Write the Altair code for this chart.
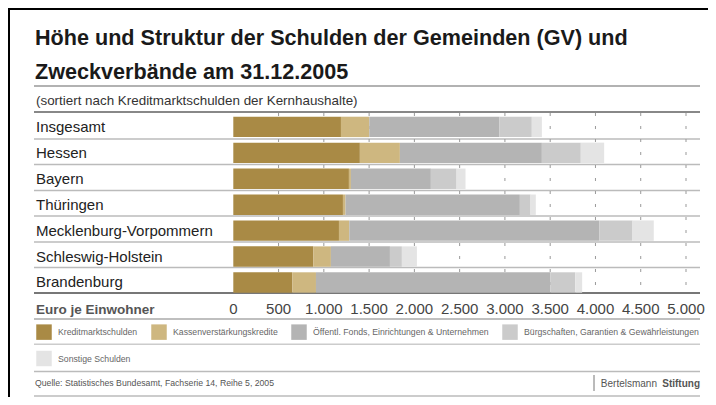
import altair as alt
import pandas as pd

# ---- data ----
states = ["Insgesamt", "Hessen", "Bayern", "Thüringen",
          "Mecklenburg-Vorpommern", "Schleswig-Holstein", "Brandenburg"]
categories = ["Kreditmarktschulden", "Kassenverstärkungskredite",
              "Öffentl. Fonds, Einrichtungen & Unternehmen",
              "Bürgschaften, Garantien & Gewährleistungen", "Sonstige Schulden"]
kredit = [1189, 1398, 1277, 1211, 1167, 883, 651]
kassen = [313, 442, 22, 29, 114, 195, 262]
oeff = [1435, 1568, 883, 1925, 2763, 652, 2590]
buerg = [360, 430, 284, 118, 365, 132, 273]
sonst = [111, 258, 99, 58, 235, 166, 77]
ticks = [0, 500, 1000, 1500, 2000, 2500, 3000, 3500, 4000, 4500, 5000]
tick_labels = ["0", "500", "1.000", "1.500", "2.000", "2.500", "3.000",
               "3.500", "4.000", "4.500", "5.000"]
colors = ["#A98A45", "#CEB780", "#B4B4B4", "#CBCBCB", "#E4E4E4"]

title1 = "Höhe und Struktur der Schulden der Gemeinden (GV) und"
title2 = "Zweckverbände am 31.12.2005"
subtitle = "(sortiert nach Kreditmarktschulden der Kernhaushalte)"
source = "Quelle: Statistisches Bundesamt, Fachserie 14, Reihe 5, 2005"

FONT = "Liberation Sans"

series = [kredit, kassen, oeff, buerg, sonst]
rows = []
for ci, (cat, vals) in enumerate(zip(categories, series)):
    for s, v in zip(states, vals):
        rows.append({"state": s, "cat": cat, "idx": ci, "value": v})
df = pd.DataFrame(rows)
df_states = pd.DataFrame({"state": states})
df_ticks = pd.DataFrame({"tick": ticks, "label": tick_labels})
df_grid = df_ticks[df_ticks.tick > 0]

W, H = 700, 389
xscale = alt.Scale(domain=[0, 5000], range=[225.3, 678], nice=False, zero=False)
yscale = alt.Scale(domain=states, range=[108.7, 284.7], paddingInner=0.213, paddingOuter=0)

base = alt.Chart(pd.DataFrame({"a": [0]}))


def hline(y, color, sw, x1=26, x2=692):
    return base.mark_rule(color=color, strokeWidth=sw).encode(
        x=alt.value(x1), x2=alt.value(x2), y=alt.value(y))


def label(text, x, y, size, color="#222", weight="normal", align="left", baseline="alphabetic"):
    return base.mark_text(text=text, font=FONT, fontSize=size, color=color,
                          fontWeight=weight, align=align, baseline=baseline).encode(
        x=alt.value(x), y=alt.value(y))


layers = []
# frame
layers.append(base.mark_rule(color="#000", strokeWidth=2).encode(
    x=alt.value(1), y=alt.value(0), y2=alt.value(H)))
layers.append(base.mark_rule(color="#000", strokeWidth=2).encode(
    x=alt.value(0), x2=alt.value(W), y=alt.value(1)))

# horizontal lines
layers.append(hline(78, "#999", 1.5))
layers.append(hline(104, "#888", 2))
for yy in [131, 156.5, 182.5, 208, 234, 259.5]:
    layers.append(hline(yy, "#bbb", 1.5))
layers.append(hline(285, "#777", 2))
layers.append(hline(311, "#aaa", 1.5))
layers.append(hline(336.3, "#ccc", 1.5))
layers.append(hline(363.5, "#bbb", 1.5))
layers.append(hline(388, "#bbb", 1.5))

# dashed grid
grid = alt.Chart(df_grid).mark_rule(color="#999", strokeWidth=1, strokeDash=[3, 10]).encode(
    x=alt.X("tick:Q", scale=xscale, axis=None),
    y=alt.value(105), y2=alt.value(285))
layers.append(grid)

bars = alt.Chart(df).mark_bar(size=20.4).encode(
    x=alt.X("value:Q", stack="zero", scale=xscale, axis=None),
    y=alt.Y("state:N", scale=yscale, axis=None, sort=states),
    color=alt.Color("cat:N", scale=alt.Scale(domain=categories, range=colors),
                    legend=alt.Legend(orient="none", legendX=28, legendY=316,
                                      direction="horizontal", columns=4, title=None,
                                      symbolType="square", symbolSize=240,
                                      symbolStrokeWidth=0, symbolOpacity=1,
                                      labelFont=FONT, labelFontSize=8.7, labelColor="#666",
                                      labelOffset=6, columnPadding=13, rowPadding=10.5,
                                      labelLimit=400)),
    order=alt.Order("idx:Q"))
layers.append(bars)

# row labels
rowlab = alt.Chart(df_states).mark_text(font=FONT, fontSize=15, color="#222",
                                        align="left", baseline="middle").encode(
    x=alt.value(28),
    y=alt.Y("state:N", scale=yscale, axis=None, sort=states),
    text="state:N")
layers.append(rowlab)

# tick labels
ticklab = alt.Chart(df_ticks).mark_text(font=FONT, fontSize=15, color="#444",
                                        align="center", baseline="alphabetic").encode(
    x=alt.X("tick:Q", scale=xscale, axis=None),
    y=alt.value(305.5),
    text="label:N")
layers.append(ticklab)

layers.append(label("Euro je Einwohner", 28, 305.5, 13.5, "#555", "bold"))
layers.append(label(title1, 27, 37, 21.6, "#1a1a1a", "bold"))
layers.append(label(title2, 27, 71, 21.6, "#1a1a1a", "bold"))
layers.append(label(subtitle, 28, 92.5, 13.4, "#333", baseline="middle"))
layers.append(label(source, 27, 375, 8.7, "#555", baseline="middle"))
layers.append(label("Stiftung", 692, 375.5, 10, "#555", "bold", align="right", baseline="middle"))
layers.append(label("Bertelsmann", 649, 375.5, 10, "#555", align="right", baseline="middle"))
layers.append(base.mark_rule(color="#777", strokeWidth=1).encode(
    x=alt.value(586), y=alt.value(367), y2=alt.value(383)))

chart = alt.layer(*layers).properties(
    width=W, height=H, padding=0, autosize=alt.AutoSizeParams(type="none")
).configure_view(stroke=None).resolve_scale(x="shared", y="shared")

chart.save("out.html", embed_options={"renderer": "svg", "actions": False})
